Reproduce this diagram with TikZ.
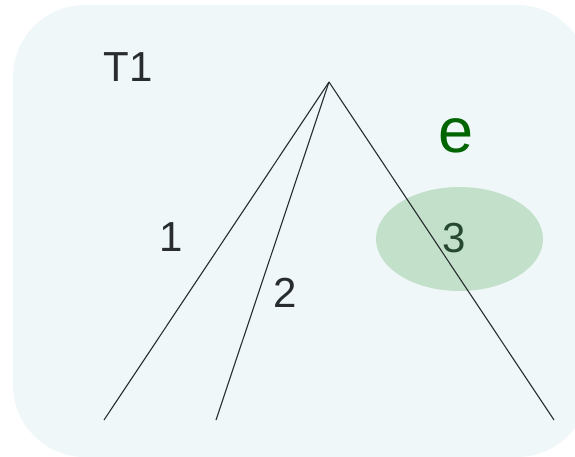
\documentclass[tikz,border=0pt]{standalone}
\usepackage{fontspec}
\setmainfont{Liberation Sans}
\usepackage{tikz}
\usetikzlibrary{shapes.geometric}
\usepackage{xcolor}
\definecolor{panelbg}{RGB}{239,247,249}
\definecolor{hlfill}{RGB}{195,224,202}
\definecolor{hlink}{RGB}{38,72,48}
\definecolor{egreen}{RGB}{0,100,0}
\definecolor{ink}{RGB}{40,44,46}
\tikzset{
  panel/.style  = {fill=panelbg, draw=none, rounded corners=72pt},
  branch/.style = {draw=ink, line width=1.1pt},
  lbl/.style    = {text=ink, font=\fontsize{42}{50}\selectfont,
                   inner sep=0pt, anchor=base},
  hilite/.style = {ellipse, fill=hlfill, draw=none, inner sep=0pt,
                   minimum width=167pt, minimum height=104pt},
}

\begin{document}
\begin{tikzpicture}[x=1pt, y=-1pt]
\useasboundingbox (0,0) rectangle (575,457);

%% ── Panel ─────────────────────────────────────────────────
\draw[panel] (13,5) rectangle (589,457);

%% ── Highlight ─────────────────────────────────────────────
\node[hilite] (hl) at (459.5,239) {};

%% ── Tree ──────────────────────────────────────────────────
\coordinate (root)  at (329,82);
\coordinate (leafA) at (104,420);
\coordinate (leafB) at (216,420);
\coordinate (leafC) at (554,420);

\draw[branch] (root) -- (leafA);
\draw[branch] (root) -- (leafB);
\draw[branch] (root) -- (leafC);

%% ── Labels ────────────────────────────────────────────────
\node[lbl] (tname) at (128,82)  {T1};
\node[lbl] (one)   at (171,251) {1};
\node[lbl] (two)   at (285,307) {2};
\node[lbl, text=hlink] (three) at (454,252) {3};
\node[lbl, text=egreen, font=\fontsize{63}{70}\selectfont]
  (ename) at (456,153) {e};

\end{tikzpicture}
\end{document}
